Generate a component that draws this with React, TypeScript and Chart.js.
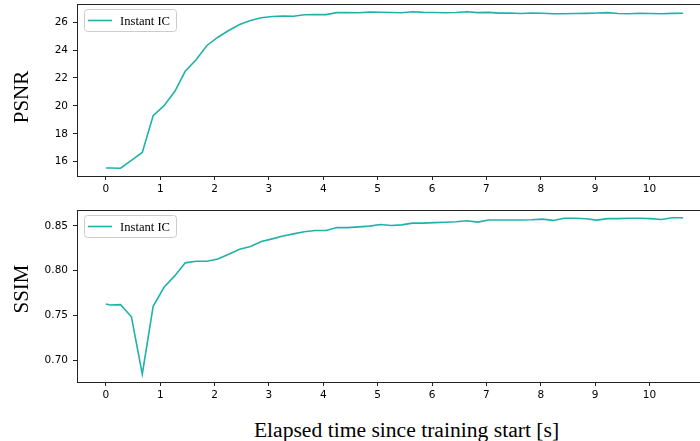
import React, { useEffect, useRef } from "react";
import { Chart, registerables } from "chart.js";

Chart.register(...registerables);

const SERIES_LABEL = "Instant IC";
const X_LABEL = "Elapsed time since training start [s]";
const PSNR_LABEL = "PSNR";
const SSIM_LABEL = "SSIM";

const TIME_S = [
  0, 0.08, 0.27, 0.47, 0.67, 0.87, 1.07, 1.27, 1.46, 1.66, 1.86, 2.06, 2.26, 2.46, 2.66,
  2.86, 3.06, 3.26, 3.45, 3.65, 3.85, 4.05, 4.25, 4.45, 4.65, 4.85, 5.05, 5.25, 5.44, 5.64,
  5.84, 6.04, 6.24, 6.44, 6.64, 6.84, 7.04, 7.24, 7.43, 7.63, 7.83, 8.03, 8.23, 8.43, 8.63,
  8.83, 9.03, 9.23, 9.42, 9.62, 9.82, 10.02, 10.22, 10.42, 10.62,
];

const PSNR = [
  15.55, 15.55, 15.54, 16.1, 16.67, 19.3, 20.02, 21.05, 22.48, 23.3, 24.33, 24.92, 25.4, 25.83, 26.12,
  26.31, 26.41, 26.43, 26.42, 26.53, 26.54, 26.54, 26.68, 26.68, 26.67, 26.72, 26.71, 26.69, 26.67, 26.74,
  26.7, 26.69, 26.67, 26.69, 26.74, 26.68, 26.7, 26.65, 26.66, 26.62, 26.66, 26.64, 26.6, 26.6, 26.62,
  26.63, 26.65, 26.68, 26.62, 26.6, 26.64, 26.62, 26.6, 26.63, 26.64,
];

const SSIM = [
  0.7627, 0.7615, 0.7619, 0.7484, 0.6843, 0.76, 0.7813, 0.7943, 0.8086, 0.8104, 0.8104, 0.813, 0.8182, 0.8238, 0.8268,
  0.8324, 0.8354, 0.8385, 0.841, 0.8433, 0.8447, 0.8447, 0.8481, 0.848, 0.8488, 0.8496, 0.8515, 0.8503, 0.851, 0.853,
  0.853, 0.8535, 0.854, 0.8545, 0.8556, 0.8541, 0.8565, 0.8565, 0.8565, 0.8565, 0.8568, 0.8574, 0.856, 0.8585, 0.8585,
  0.8578, 0.8563, 0.858, 0.858, 0.8584, 0.8585, 0.858, 0.857, 0.8589, 0.8589,
];

const X_TICKS = [0, 1, 2, 3, 4, 5, 6, 7, 8, 9, 10];
const PSNR_TICKS = [16, 18, 20, 22, 24, 26];
const SSIM_TICKS = [0.7, 0.75, 0.8, 0.85];

const LINE_COLOR = "#20b2aa";
const FRAME_COLOR = "#222222";
const TICK_FONT = { family: "'DejaVu Sans', sans-serif", size: 10.5 };
const SERIF = "'Liberation Serif', 'Times New Roman', serif";

function padRange(values: number[]) {
  const lo = Math.min(...values);
  const hi = Math.max(...values);
  const m = (hi - lo) * 0.05;
  return [lo - m, hi + m];
}

const framePlugin = {
  id: "frame",
  afterDatasetsDraw(chart: any) {
    const { ctx, chartArea: a } = chart;
    ctx.save();
    ctx.strokeStyle = FRAME_COLOR;
    ctx.lineWidth = 1;
    ctx.strokeRect(
      Math.round(a.left) + 0.5,
      Math.round(a.top) + 0.5,
      Math.round(a.right - a.left),
      Math.round(a.bottom - a.top)
    );
    ctx.restore();
  },
};

const insideLegend = {
  id: "insideLegend",
  afterDatasetsDraw(chart: any) {
    const { ctx, chartArea: a } = chart;
    const ds = chart.data.datasets[0];
    ctx.save();
    ctx.font = `12.6px ${SERIF}`;
    const tw = ctx.measureText(ds.label).width;
    const x = Math.round(a.left) + 7;
    const y = Math.round(a.top) + 5;
    const w = Math.round(36 + tw + 6);
    const h = 22;
    ctx.beginPath();
    ctx.roundRect(x + 0.5, y + 0.5, w, h, 3);
    ctx.fillStyle = "rgba(255,255,255,0.8)";
    ctx.fill();
    ctx.strokeStyle = "#cccccc";
    ctx.lineWidth = 1;
    ctx.stroke();
    ctx.beginPath();
    ctx.moveTo(x + 4, y + h / 2 + 0.5);
    ctx.lineTo(x + 28, y + h / 2 + 0.5);
    ctx.strokeStyle = ds.borderColor;
    ctx.lineWidth = 1.6;
    ctx.stroke();
    ctx.fillStyle = "#000";
    ctx.textBaseline = "middle";
    ctx.textAlign = "left";
    ctx.fillText(ds.label, x + 36, y + h / 2 + 1.5);
    ctx.restore();
  },
};

function makeConfig(yValues: number[], yTicks: number[], decimals: number): any {
  const [xMin, xMax] = padRange(TIME_S);
  const [yMin, yMax] = padRange(yValues);
  return {
    type: "line",
    data: {
      datasets: [
        {
          label: SERIES_LABEL,
          data: TIME_S.map((t, i) => ({ x: t, y: yValues[i] })),
          borderColor: LINE_COLOR,
          backgroundColor: LINE_COLOR,
          borderWidth: 1.6,
          pointRadius: 0,
          tension: 0,
          fill: false,
        },
      ],
    },
    options: {
      responsive: false,
      animation: false,
      devicePixelRatio: 1,
      layout: { padding: { top: 4, right: 10, left: 0, bottom: 0 } },
      plugins: { legend: { display: false }, tooltip: { enabled: false }, title: { display: false } },
      scales: {
        x: {
          type: "linear",
          min: xMin,
          max: xMax,
          afterBuildTicks: (s: any) => {
            s.ticks = X_TICKS.map((v) => ({ value: v }));
          },
          afterFit: (s: any) => {
            s.height = 20;
            s.paddingLeft = 0;
            s.paddingRight = 0;
          },
          border: { display: false },
          grid: { drawOnChartArea: false, drawTicks: true, tickLength: 4, color: FRAME_COLOR, lineWidth: 1 },
          ticks: { font: TICK_FONT, color: "#000", padding: 3, maxRotation: 0, autoSkip: false },
        },
        y: {
          type: "linear",
          min: yMin,
          max: yMax,
          afterBuildTicks: (s: any) => {
            s.ticks = yTicks.map((v) => ({ value: v }));
          },
          afterFit: (s: any) => {
            s.width = 77;
            s.paddingTop = 0;
            s.paddingBottom = 0;
          },
          border: { display: false },
          grid: { drawOnChartArea: false, drawTicks: true, tickLength: 4, color: FRAME_COLOR, lineWidth: 1 },
          ticks: {
            font: TICK_FONT,
            color: "#000",
            padding: 5,
            autoSkip: false,
            callback: (v: number) => v.toFixed(decimals),
          },
        },
      },
    },
    plugins: [framePlugin, insideLegend],
  };
}

function Panel({ top, values, ticks, decimals }: { top: number; values: number[]; ticks: number[]; decimals: number }) {
  const ref = useRef<HTMLCanvasElement | null>(null);
  useEffect(() => {
    if (!ref.current) return;
    const chart = new Chart(ref.current, makeConfig(values, ticks, decimals));
    return () => chart.destroy();
  }, []);
  return (
    <canvas
      ref={ref}
      width={722}
      height={196}
      style={{ position: "absolute", left: 0, top, width: 722, height: 196 }}
    />
  );
}

const yTitleStyle = (cx: number, cy: number): React.CSSProperties => ({
  position: "absolute",
  left: cx,
  top: cy,
  transform: "translate(-50%, -50%) rotate(-90deg)",
  fontFamily: SERIF,
  fontSize: 21,
  lineHeight: "21px",
  whiteSpace: "nowrap",
  color: "#000",
});

export default function App() {
  useEffect(() => {
    document.body.style.overflow = "hidden";
  }, []);
  return (
    <div
      style={{
        position: "fixed",
        left: 0,
        top: 0,
        width: 730,
        height: 441,
        background: "#fff",
        overflow: "hidden",
      }}
    >
      <Panel top={0} values={PSNR} ticks={PSNR_TICKS} decimals={0} />
      <Panel top={206} values={SSIM} ticks={SSIM_TICKS} decimals={2} />
      <div style={yTitleStyle(21, 96.5)}>{PSNR_LABEL}</div>
      <div style={yTitleStyle(21, 289)}>{SSIM_LABEL}</div>
      <div
        style={{
          position: "absolute",
          left: 406.5,
          top: 420,
          transform: "translateX(-50%)",
          fontFamily: SERIF,
          fontSize: 21.6,
          lineHeight: "21px",
          whiteSpace: "nowrap",
          color: "#000",
        }}
      >
        {X_LABEL}
      </div>
    </div>
  );
}
